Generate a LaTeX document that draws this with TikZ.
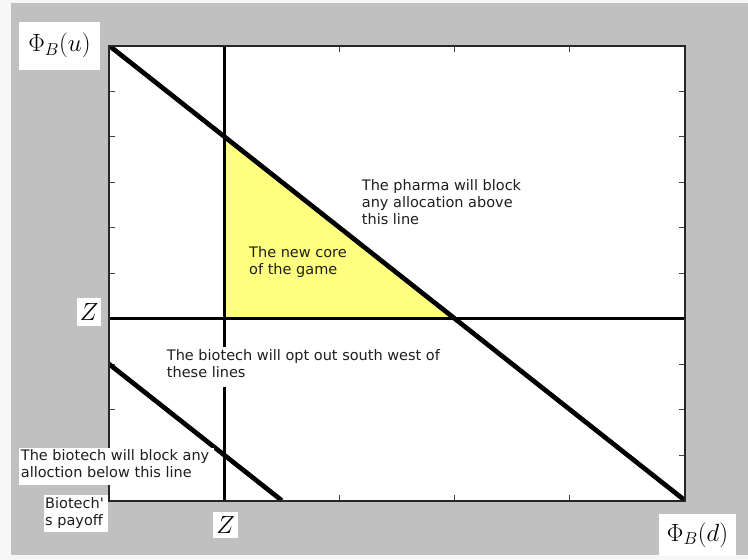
\documentclass[tikz,border=0pt]{standalone}
\usepackage{fontspec}
\newfontfamily\dejavu{DejaVu Sans}
\definecolor{bggray}{RGB}{192,192,192}
\definecolor{outerwhite}{RGB}{246,246,246}
\definecolor{coreyellow}{RGB}{255,255,128}
\definecolor{txt}{RGB}{30,30,30}
\tikzset{
  tickmark/.style={line width=1pt, black!75},
  zline/.style={line width=3pt, black},
  payline/.style={line width=4.7pt, black},
  axisbox/.style={line width=2pt, black!85},
  mathlab/.style={fill=white, inner sep=0pt, font=\fontsize{25}{30}\selectfont},
  notelab/.style={anchor=north west, inner sep=0pt, align=left, text=txt,
                  font=\dejavu\fontsize{14.5}{17}\selectfont},
  notebg/.style={fill=white}
}
\begin{document}
\begin{tikzpicture}[x=1pt,y=-1pt]
\useasboundingbox (0,0) rectangle (748,560);
\fill[outerwhite] (0,0) rectangle (748,560);
\fill[bggray] (11,3) rectangle (748,555);
% plot area
\coordinate (TL) at (109,45.5);
\coordinate (BR) at (685,500.5);
\fill[white] (TL) rectangle (BR);
% the new core
\coordinate (A) at (224.2,136.5);
\coordinate (B) at (224.2,318.5);
\coordinate (C) at (454.6,318.5);
\fill[coreyellow] (A) -- (B) -- (C) -- cycle;
% ticks
\foreach \k in {1,...,4} {
  \draw[tickmark] (109+115.2*\k,500.5) -- ++(0,-6);
  \draw[tickmark] (109+115.2*\k,45.5) -- ++(0,6);
}
\foreach \k in {1,...,9} {
  \draw[tickmark] (109,45.5+45.5*\k) -- ++(6,0);
  \draw[tickmark] (685,45.5+45.5*\k) -- ++(-6,0);
}
% Z lines
\coordinate (ZvT) at (224.2,45.5);
\coordinate (ZvB) at (224.2,500.5);
\coordinate (ZhL) at (109,318.5);
\coordinate (ZhR) at (685,318.5);
\draw[zline] (ZvT) -- (ZvB);
\draw[zline] (ZhL) -- (ZhR);
% payoff lines
\coordinate (LL) at (109,364);
\coordinate (LR) at (281.8,500.5);
\begin{scope}
  \clip (TL) rectangle (BR);
  \draw[payline] (TL) -- (BR);
  \draw[payline] (LL) -- (LR);
\end{scope}
\draw[axisbox] (TL) rectangle (BR);
% label backgrounds
\fill[notebg] (163,347) rectangle (452,387);
\fill[notebg] (19,448) rectangle (214,485);
\fill[notebg] (44,495) rectangle (108,532);
% math labels
\node[mathlab, minimum width=81pt, minimum height=48pt] (phiu) at (59.5,45.5) {$\Phi_B(u)$};
\node[mathlab, minimum width=24pt, minimum height=28pt] (zl) at (89,312) {$Z$};
\node[mathlab, minimum width=25pt, minimum height=26pt] (zb) at (225.5,525) {$Z$};
\node[mathlab, minimum width=77pt, minimum height=42pt] (phid) at (697.5,535) {$\Phi_B(d)$};
% notes
\node[notelab] (pharma) at (361.7,179.7) {The pharma will block\\any allocation above\\this line};
\node[notelab] (core) at (249,246) {The new core\\of the game};
\node[notelab] (optout) at (166.7,349) {The biotech will opt out south west of\\these lines};
\node[notelab] (block) at (20.7,449.7) {The biotech will block any\\alloction below this line};
\node[notelab] (payoff) at (45,497) {Biotech'\\s payoff};
\end{tikzpicture}
\end{document}
